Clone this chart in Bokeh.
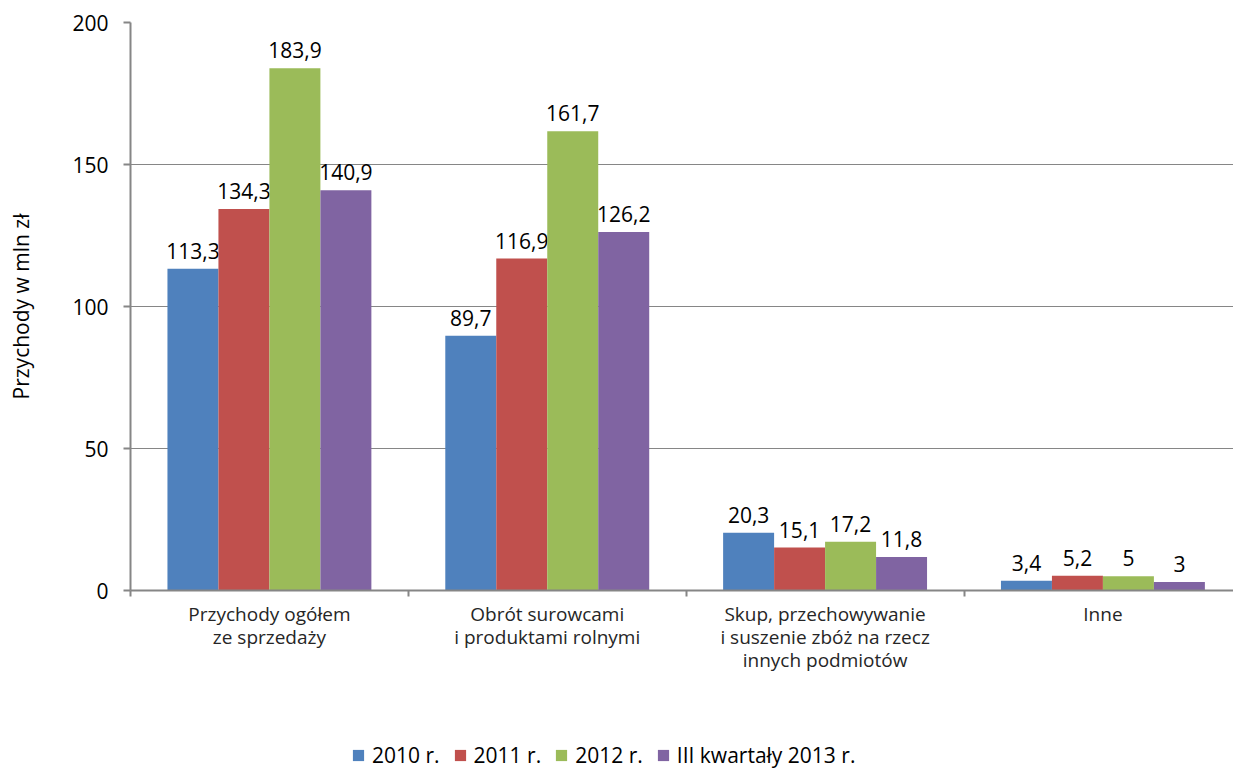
from bokeh.plotting import figure
from bokeh.layouts import column
from bokeh.models import Range1d, FixedTicker, Legend, LegendItem, ColumnDataSource
from bokeh.embed import file_html
from bokeh.resources import INLINE
from bokeh.core.properties import value

categories = ["Przychody ogółem\nze sprzedaży",
              "Obrót surowcami\ni produktami rolnymi",
              "Skup, przechowywanie\ni suszenie zbóż na rzecz\ninnych podmiotów",
              "Inne"]
series_names = ["2010 r.", "2011 r.", "2012 r.", "III kwartały 2013 r."]
v2010 = [113.3, 89.7, 20.3, 3.4]
v2011 = [134.3, 116.9, 15.1, 5.2]
v2012 = [183.9, 161.7, 17.2, 5.0]
v2013 = [140.9, 126.2, 11.8, 3.0]
labels2010 = ["113,3", "89,7", "20,3", "3,4"]
labels2011 = ["134,3", "116,9", "15,1", "5,2"]
labels2012 = ["183,9", "161,7", "17,2", "5"]
labels2013 = ["140,9", "126,2", "11,8", "3"]
colors = ["#4F81BD", "#C0504D", "#9BBB59", "#8064A2"]
y_ticks = [0, 50, 100, 150, 200]
y_title = "Przychody w mln zł"

FONT = "Open Sans"
GRAY = "#868686"

p = figure(frame_width=1103, frame_height=568, output_backend="svg", toolbar_location=None,
           x_range=Range1d(0, 3.97), y_range=Range1d(0, 200),
           min_border_left=130, min_border_right=0, min_border_top=22,
           min_border_bottom=130)
p.outline_line_color = None
p.background_fill_color = "white"
p.border_fill_color = "white"

bar_w = 0.1835
all_vals = [v2010, v2011, v2012, v2013]
all_labels = [labels2010, labels2011, labels2012, labels2013]
for k, (vals, labs) in enumerate(zip(all_vals, all_labels)):
    xs = [i + 0.5 + (k - 1.5) * bar_w for i in range(len(categories))]
    src = ColumnDataSource(dict(x=xs, top=vals, lab=labs))
    p.vbar(x="x", top="top", width=bar_w, bottom=0, source=src,
           fill_color=colors[k], line_color=None)
    p.text(x="x", y="top", text="lab", source=src, text_align="center",
           text_baseline="bottom", y_offset=-10, text_font=value(FONT),
           text_font_size="21px", text_color="#000000")

# y axis
p.yaxis.ticker = FixedTicker(ticks=y_ticks)
p.yaxis.axis_line_color = GRAY
p.yaxis.axis_line_width = 2
p.yaxis.major_tick_line_color = GRAY
p.yaxis.major_tick_line_width = 2
p.yaxis.major_tick_out = 7
p.yaxis.major_tick_in = 0
p.yaxis.minor_tick_line_color = None
p.yaxis.major_label_text_font = FONT
p.yaxis.major_label_text_font_size = "21px"
p.yaxis.major_label_text_color = "#000000"
p.yaxis.major_label_standoff = 15
p.yaxis.axis_label = y_title
p.yaxis.axis_label_text_font = FONT
p.yaxis.axis_label_text_font_size = "21px"
p.yaxis.axis_label_text_font_style = "normal"
p.yaxis.axis_label_text_color = "#000000"
p.yaxis.axis_label_standoff = 34

p.ygrid.ticker = FixedTicker(ticks=y_ticks)
p.ygrid.grid_line_color = GRAY
p.ygrid.grid_line_width = 1
p.xgrid.grid_line_color = None

# x axis: labels at centers, boundary ticks as minor ticks
p.xaxis.ticker = FixedTicker(ticks=[i + 0.5 for i in range(len(categories))],
                             minor_ticks=list(range(len(categories) + 1)))
p.xaxis.major_label_overrides = {i + 0.5: c for i, c in enumerate(categories)}
p.xaxis.axis_line_color = GRAY
p.xaxis.axis_line_width = 2
p.xaxis.major_tick_line_color = None
p.xaxis.major_tick_out = 0
p.xaxis.major_tick_in = 0
p.xaxis.minor_tick_line_color = GRAY
p.xaxis.minor_tick_line_width = 2
p.xaxis.minor_tick_out = 6
p.xaxis.minor_tick_in = 0
p.xaxis.major_label_text_font = FONT
p.xaxis.major_label_text_font_size = "19px"
p.xaxis.major_label_text_line_height = 0.9
p.xaxis.major_label_text_color = "#262626"
p.xaxis.major_label_standoff = 4

# legend strip below the chart (proxy glyphs lie outside its visible range)
lg = figure(width=1233, height=49, output_backend="svg", toolbar_location=None,
            x_range=Range1d(0, 1), y_range=Range1d(0, 1),
            x_axis_type=None, y_axis_type=None, min_border=0)
lg.outline_line_color = None
lg.xgrid.grid_line_color = None
lg.ygrid.grid_line_color = None
lg_renderers = [lg.vbar(x=[-5], top=[-5], bottom=[-6], width=0.1, fill_color=c, line_color=None)
                for c in colors]
legend = Legend(items=[LegendItem(label=n, renderers=[r]) for n, r in zip(series_names, lg_renderers)],
                orientation="horizontal", location=(221, 0),
                label_text_font=FONT, label_text_font_size="21px",
                label_text_color="#000000",
                glyph_width=14, glyph_height=14, label_standoff=7, spacing=13,
                border_line_color=None, background_fill_alpha=0,
                margin=0, padding=0)
lg.add_layout(legend, "center")

layout = column(p, lg, spacing=0)
open("out.html", "w").write(file_html(layout, INLINE))
